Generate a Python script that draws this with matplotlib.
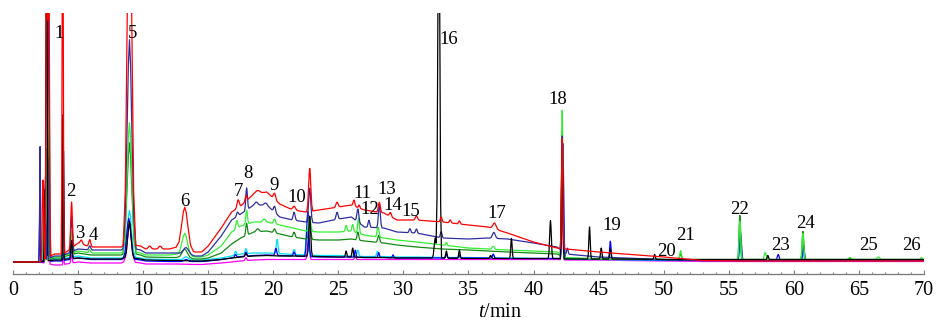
import matplotlib
matplotlib.use("Agg")
import matplotlib.pyplot as plt
from matplotlib.ticker import MultipleLocator
import numpy as np

plt.rcParams['font.family'] = ['Liberation Serif', 'DejaVu Serif']
plt.rcParams['mathtext.fontset'] = 'custom'
plt.rcParams['mathtext.rm'] = 'Liberation Serif'
plt.rcParams['mathtext.it'] = 'Liberation Serif:italic'

# retention-time knots (min) for the drifting baselines
KNOT_T = [0, 2.0, 3.2, 3.7, 4.1, 5.0, 6.0, 8.3, 8.7, 9.8, 10.2, 12.0, 12.6, 14.0, 14.5,
          15.0, 16.0, 16.8, 17.5, 18.5, 19.5, 20.5, 21.5, 22.5, 23.5, 25.0, 26.0, 27.0,
          28.5, 29.5, 31.0, 33.0, 35.0, 36.5, 38.0, 40.0, 41.8, 42.5, 45.0, 47.0, 50.0,
          53.0, 56.0, 70.0]

# baseline level of each trace at the knots (detector units)
red_base = [0, 0, 8, 8, 10, 19, 15, 15, 18, 16, 13, 13, 15, 10, 10, 16, 34, 50, 56, 68,
            70, 58, 52, 50, 52, 55, 57, 52, 49, 42, 42, 40, 37, 35, 29, 20, 14, 13, 10, 8,
            5, 1.5, 1, 1]
navy_base = [0, 0, 6, 6, 8, 13, 12, 12, 15, 12, 9, 9, 9, 6, 6, 10, 26, 42, 48, 57,
             57, 45, 42, 40, 39, 43, 45, 35, 34, 30, 29, 24, 23, 24, 23, 19, 15, 8, 5, 4,
             2.5, 1.5, 1.5, 1.5]
green_base = [0, 0, 5, 5, 7, 11, 9, 9, 12, 9, 7, 7, 8, 5, 5, 7, 16, 30, 36, 40,
              40, 37, 34, 31, 30, 30, 31, 27, 24, 22, 20, 17, 14, 13, 12, 11, 10, 4, 3.5, 3,
              2.5, 2, 2.5, 2.5]
dkgreen_base = [0, 0, 4, 4, 6, 9, 7, 7, 10, 7, 5, 4.5, 4.5, 3, 3, 4, 9, 18, 24, 30,
                31, 28, 25, 23, 22, 22, 23, 21, 19, 17, 15, 13, 12, 11, 10, 9, 8, 4, 3, 3,
                2.5, 2.5, 2.5, 2.5]
cyan_base = [0, 0, 3, 3, 4, 6, 4, 4, 6, 4, 3, 2.5, 2.5, 2, 2, 2.5, 4, 6, 8, 9,
             9, 8.5, 7.5, 7, 6.5, 6.5, 6, 5.5, 5.5, 5, 5, 4.5, 4.5, 4, 4, 3.5, 3.5, 3, 2.5, 2,
             1.5, 1.5, 1.5, 1.5]
black_base = [0, 0, 2, 2, 3, 4, 3, 3, 5, 3, 2, 1.5, 1.5, 1, 1, 1.5, 2.5, 4, 5, 6,
              6.5, 6, 6, 6, 5.5, 5, 5, 4.5, 4.5, 4, 4, 4, 3.5, 3.5, 3.5, 3.5, 3.5, 3, 3, 3,
              2.5, 2.5, 2.5, 2.5]
magenta_base = [0, 0, -3, -3, -2, 0, -1, -1, 1, -1, -2, -2, -2, -2.5, -2.5, -2, -1, 0, 1, 2,
                2.5, 2.5, 2.5, 2.5, 2.5, 2.5, 2.5, 2.5, 2.5, 2.5, 2.5, 2.5, 2.5, 2.5, 2.5, 2.5,
                2.5, 2, 2, 1.5, 1, 0.5, 0.5, 0.5]
blue_base = [0, 0, 1, 1, 2, 4, 2.5, 2.5, 4, 2, 1, 0.5, 0.5, 0.5, 0.5, 1, 2.5, 4, 5.5, 6.5,
             7, 6.5, 6, 5.5, 5, 5, 5, 4.5, 4.5, 4, 4, 4, 4, 4, 3.5, 3.5, 3.5, 3.5, 3, 2.5,
             2, 1.5, 1.5, 1.5]

# peaks: (retention time, height above baseline, width sigma in min)
red_peaks = [(2.3, 80, 0.05), (2.6, 400, 0.05), (2.75, 300, 0.05), (3.82, 400, 0.04),
             (4.5, 46, 0.06), (5.25, 4, 0.08), (5.9, 7, 0.07), (8.95, 400, 0.16),
             (10.5, 3, 0.1), (11.3, 3, 0.1), (13.2, 42, 0.22), (17.3, 8, 0.08),
             (17.9, 6, 0.06), (18.8, 3, 0.15), (20.1, 6, 0.08), (21.6, 4, 0.1),
             (22.8, 43, 0.08), (24.9, 5, 0.08), (26.2, 6, 0.06), (26.6, 3, 0.05),
             (28.15, 10, 0.07), (29.0, 4, 0.07), (31.0, 4, 0.08), (32.9, 5, 0.06),
             (33.6, 3, 0.06), (34.3, 3, 0.06), (37.0, 6, 0.12), (42.2, 110, 0.05)]
navy_peaks = [(2.08, 115, 0.03), (2.45, 70, 0.04), (2.72, 300, 0.05), (3.88, 104, 0.035),
              (4.5, 35, 0.06), (5.9, 4, 0.07), (8.95, 208, 0.17), (13.3, 7, 0.2),
              (17.25, 4, 0.07), (17.95, 22, 0.06), (18.7, 3, 0.1), (19.4, 2, 0.1),
              (20.1, 6, 0.07), (21.6, 8, 0.07), (22.8, 34, 0.08), (24.9, 7, 0.07),
              (26.5, 13, 0.07), (27.35, 7, 0.06), (28.15, 23, 0.07), (30.5, 4, 0.06),
              (31.0, 4, 0.06), (32.9, 6, 0.06), (36.95, 6, 0.1), (42.2, 115, 0.05),
              (42.6, 6, 0.05)]
green_peaks = [(2.35, 65, 0.04), (2.62, 100, 0.04), (2.75, 200, 0.05), (3.88, 50, 0.03),
               (4.55, 22, 0.06), (5.9, 3, 0.07), (8.95, 128, 0.17), (13.2, 22, 0.2),
               (17.2, 8, 0.07), (17.95, 14, 0.06), (19.3, 3, 0.1), (20.1, 5, 0.07),
               (22.8, 15, 0.08), (25.6, 6, 0.06), (26.1, 7, 0.06), (26.55, 15, 0.06),
               (28.05, 10, 0.07), (33.3, 3, 0.05), (36.9, 3, 0.08), (42.2, 145, 0.05),
               (51.3, 9, 0.06), (55.85, 38, 0.06), (57.8, 7, 0.07), (60.7, 26, 0.06),
               (64.3, 2, 0.08), (66.5, 2.5, 0.1), (69.8, 2, 0.06)]
dkgreen_peaks = [(2.5, 70, 0.04), (2.72, 160, 0.05), (3.88, 35, 0.03), (4.55, 15, 0.06),
                 (8.95, 110, 0.17), (13.2, 9, 0.2), (17.95, 12, 0.06), (18.8, 3, 0.1),
                 (20.1, 4, 0.07), (21.6, 5, 0.07), (22.8, 14, 0.08), (26.5, 8, 0.06),
                 (28.1, 7, 0.07), (42.2, 125, 0.05), (51.3, 6, 0.06), (55.85, 44, 0.06),
                 (60.7, 28, 0.06), (64.3, 1.5, 0.08)]
cyan_peaks = [(2.45, 60, 0.04), (2.7, 120, 0.05), (3.88, 25, 0.03), (4.5, 12, 0.05),
              (8.95, 46, 0.15), (13.3, 3, 0.15), (17.1, 4, 0.06), (17.9, 5, 0.06),
              (20.3, 14, 0.06), (21.6, 5, 0.06), (22.6, 26, 0.08), (26.5, 6, 0.06),
              (28.0, 5, 0.06), (33.3, 3, 0.05), (36.9, 3, 0.07), (42.2, 85, 0.05),
              (55.85, 16, 0.06), (60.7, 8, 0.06)]
black_peaks = [(2.45, 70, 0.035), (2.58, 400, 0.04), (3.85, 145, 0.03), (4.5, 18, 0.05),
               (8.95, 36, 0.12), (17.9, 3, 0.06), (22.8, 40, 0.07), (25.6, 6, 0.05),
               (26.1, 9, 0.05), (32.45, 20, 0.08), (32.72, 400, 0.07), (33.3, 7, 0.05),
               (34.3, 8, 0.05), (36.7, 3, 0.06), (38.3, 20, 0.05), (41.3, 38, 0.06),
               (42.2, 112, 0.05), (44.3, 32, 0.05), (45.2, 11, 0.05), (45.9, 10, 0.05),
               (49.3, 5, 0.05), (58.0, 4, 0.05)]
magenta_peaks = [(2.5, 40, 0.04), (2.7, 80, 0.05), (3.88, 15, 0.03), (4.5, 8, 0.05),
                 (8.95, 36, 0.15), (17.9, 3, 0.06), (22.7, 20, 0.07), (26.3, 4, 0.05),
                 (42.2, 60, 0.05)]
blue_peaks = [(2.05, 45, 0.03), (2.5, 85, 0.04), (2.75, 140, 0.05), (3.88, 20, 0.03),
              (4.5, 10, 0.05), (8.9, 40, 0.15), (13.3, 2, 0.15), (17.1, 3, 0.06),
              (17.9, 4, 0.06), (20.2, 7, 0.06), (21.6, 4, 0.06), (22.65, 45, 0.08),
              (26.3, 7, 0.05), (28.1, 5, 0.05), (29.2, 3, 0.05), (33.3, 4, 0.05),
              (34.3, 3, 0.05), (36.9, 4, 0.06), (42.25, 115, 0.06), (45.9, 18, 0.05),
              (55.9, 28, 0.07), (58.8, 6, 0.07), (60.75, 15, 0.06), (64.3, 2, 0.06)]

# peak numbering labels: retention time and height where the number sits
label_no = [str(i) for i in range(1, 27)]
label_t = [3.53, 4.43, 5.15, 6.15, 9.22, 13.22, 17.29, 18.06, 20.06, 21.82, 26.82, 27.43,
           28.74, 29.15, 30.6, 33.5, 37.19, 41.88, 46.03, 50.25, 51.71, 55.86, 58.94,
           60.86, 65.7, 69.0]
label_h = [229, 70, 29, 27, 229, 60, 71, 88, 77, 64, 69, 52, 72, 57, 50, 223, 49, 163, 37,
           11, 27, 53, 17, 39, 16, 16]

# fixed peak profile (multiples of sigma, fraction of height)
SHAPE_K = np.array([-3, -2, -1, -0.5, 0, 0.5, 1, 2, 3])
SHAPE_F = np.array([0, 0.135, 0.61, 0.88, 1, 0.88, 0.61, 0.135, 0])

traces = [
    ("magenta", "#ff00ff", magenta_base, magenta_peaks),
    ("cyan", "#00e0f0", cyan_base, cyan_peaks),
    ("blue", "#0000ff", blue_base, blue_peaks),
    ("dark green", "#138a13", dkgreen_base, dkgreen_peaks),
    ("green", "#33ee33", green_base, green_peaks),
    ("navy", "#2e2ea0", navy_base, navy_peaks),
    ("black", "#000000", black_base, black_peaks),
    ("red", "#ff0000", red_base, red_peaks),
]


def build_trace(base, peaks):
    t = list(KNOT_T)
    for pt, ph, ps in peaks:
        t += list(pt + SHAPE_K * ps)
    t = np.unique(np.clip(t, 0, 70))
    y = np.interp(t, KNOT_T, base)
    for pt, ph, ps in peaks:
        y += np.interp(t, pt + SHAPE_K * ps, ph * SHAPE_F, left=0, right=0)
    return t, y


fig = plt.figure(figsize=(9.36, 3.22), dpi=100)
ax = fig.add_axes([13 / 936, 48 / 322, 911 / 936, 261 / 322])

for name, color, base, peaks in traces:
    t, y = build_trace(base, peaks)
    ax.plot(t, y, color=color, linewidth=0.9, label=name)

for no, lt, lh in zip(label_no, label_t, label_h):
    ax.text(lt, lh, no, ha="center", va="center", fontsize=13.5, color="black")

ax.set_xlim(0, 70)
ax.set_ylim(-12, 249)
for side in ("top", "left", "right"):
    ax.spines[side].set_visible(False)
ax.spines["bottom"].set_color("#808080")
ax.spines["bottom"].set_linewidth(1.0)
ax.set_yticks([])
ax.xaxis.set_major_locator(MultipleLocator(5))
ax.xaxis.set_minor_locator(MultipleLocator(1))
ax.tick_params(axis="x", which="major", direction="in", length=3, width=0.8,
               color="#808080", labelsize=14.5, pad=5)
ax.tick_params(axis="x", which="minor", direction="in", length=1.8, width=0.8,
               color="#808080")
ax.set_xlabel("$t$/min", fontsize=14.5)
ax.xaxis.set_label_coords((500 - 13) / 911, -0.163)
ax.xaxis.label.set_va("baseline")

fig.savefig("out.png", dpi=100)
